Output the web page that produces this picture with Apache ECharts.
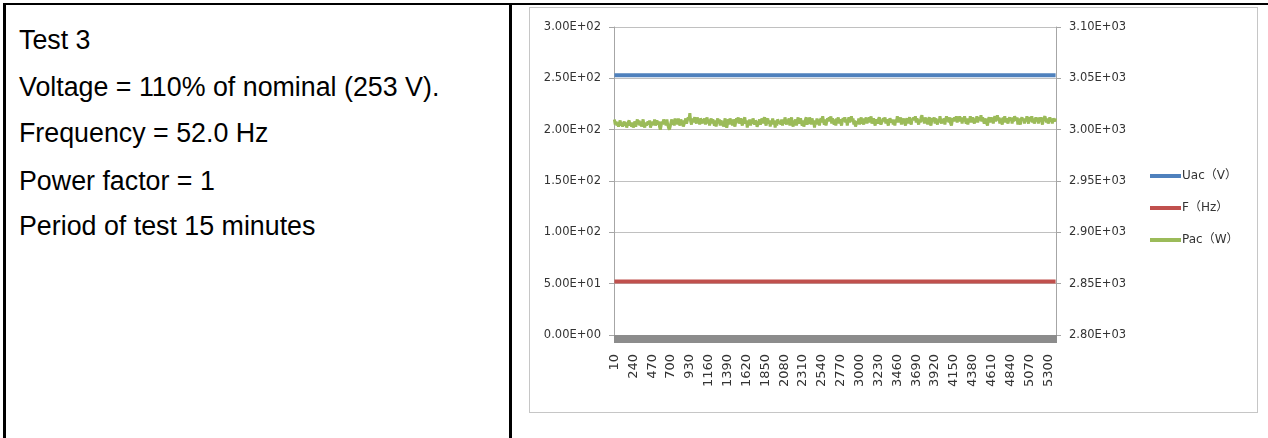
<!DOCTYPE html>
<html>
<head>
<meta charset="utf-8">
<script src="https://cdn.jsdelivr.net/npm/echarts@6/dist/echarts.min.js"></script>
<style>
  html, body { margin:0; padding:0; background:#fff; }
  #wrap { position:relative; width:1268px; height:438px; overflow:hidden; background:#fff; }
  .bl { position:absolute; background:#000; }
  .txt { position:absolute; left:19px; font-family:"Liberation Sans", Arial, sans-serif; font-size:26.8px; color:#000; white-space:nowrap; line-height:30px; height:30px; }
  #box { position:absolute; left:529px; top:7px; width:727px; height:404px; border:1px solid #c6c6c6; }
  #chart { position:absolute; left:0; top:0; width:1268px; height:438px; }
</style>
</head>
<body>
<div id="wrap">
  <div class="bl" style="left:3px;top:3px;width:1265px;height:2px;"></div>
  <div class="bl" style="left:3px;top:3px;width:3px;height:435px;"></div>
  <div class="bl" style="left:509px;top:3px;width:3px;height:435px;"></div>
  <div class="txt" style="top:25px;">Test 3</div>
  <div class="txt" style="top:72px;">Voltage = 110% of nominal (253 V).</div>
  <div class="txt" style="top:118px;">Frequency = 52.0 Hz</div>
  <div class="txt" style="top:166px;">Power factor = 1</div>
  <div class="txt" style="top:211px;">Period of test 15 minutes</div>
  <div id="box"></div>
  <div id="chart"></div>
</div>
<script>
// ---- data ----
var seriesNames = ["Uac（V）", "F（Hz）", "Pac（W）"];
var leftTicks = [0, 50, 100, 150, 200, 250, 300];
var rightTicks = [2800, 2850, 2900, 2950, 3000, 3050, 3100];
var timeStart = 10, timeStep = 10, pointCount = 539;
var categories = [];
for (var i = 0; i < pointCount; i++) categories.push(String(timeStart + i * timeStep));

var uacLevel = 253;   // V, constant over the test
var fLevel = 52;      // Hz, constant over the test

var pacValues = [
3010,3005,3008,3004,3007,3003,3006,3009,3004,3007,3003,3006,3008,3004,3007,3002,3006,3005,3009,3004,
3006,3003,3007,3002,3005,3008,3003,3007,3010,3005,3009,3004,3008,3003,3006,3010,3005,3002,3007,3004,
3003,3008,3005,3009,3002,3006,3004,3008,3005,3010,3004,3007,3009,3005,3008,3003,3000,3004,3008,3005,
3010,3006,3009,3004,3010,3005,3002,3000,3003,3007,3010,3005,3008,3004,3011,3006,3009,3005,3011,3006,
3004,3010,3006,3009,3003,3002,3008,3011,3006,3009,3012,3010,3016,3008,3005,3011,3007,3010,3012,3008,
3006,3012,3008,3010,3005,3011,3009,3006,3010,3007,3011,3005,3009,3012,3006,3010,3004,3008,3011,3006,
3010,3007,3004,3009,3003,3008,3011,3006,3010,3004,3009,3006,3008,3003,3007,3011,3005,3002,3006,3010,
3005,3011,3007,3009,3004,3010,3006,3003,3008,3011,3007,3012,3006,3009,3011,3007,3004,3008,3010,3012,
3006,3009,3002,3007,3005,3010,3004,3008,3006,3011,3008,3005,3009,3007,3003,3002,3007,3010,3005,3008,
3011,3006,3010,3012,3007,3004,3009,3011,3006,3009,3003,3008,3006,3011,3005,3009,3002,3007,3004,3010,
3011,3006,3008,3005,3010,3004,3009,3006,3012,3008,3005,3010,3007,3011,3004,3009,3012,3006,3003,3009,
3007,3010,3004,3008,3012,3006,3009,3011,3007,3004,3009,3003,3007,3010,3012,3005,3008,3006,3012,3009,
3005,3011,3007,3009,3002,3008,3005,3011,3006,3010,3004,3009,3011,3007,3013,3008,3005,3010,3004,3008,
3011,3008,3012,3009,3013,3006,3011,3008,3005,3010,3004,3011,3008,3012,3006,3010,3007,3004,3009,3011,
3008,3012,3007,3010,3004,3009,3012,3007,3010,3013,3008,3011,3005,3009,3003,3004,3008,3006,3011,3005,
3009,3012,3006,3008,3005,3011,3008,3012,3006,3010,3007,3012,3009,3013,3006,3009,3011,3007,3004,3010,
3011,3006,3010,3012,3007,3005,3004,3009,3011,3008,3012,3006,3010,3007,3004,3008,3011,3012,3007,3010,
3005,3009,3004,3010,3008,3013,3007,3011,3009,3012,3005,3010,3008,3011,3006,3004,3009,3011,3006,3010,
3012,3007,3005,3011,3009,3012,3009,3013,3007,3011,3008,3005,3010,3007,3012,3014,3008,3011,3006,3012,
3008,3011,3005,3010,3012,3007,3004,3009,3011,3008,3012,3006,3011,3008,3005,3010,3007,3013,3009,3006,
3010,3008,3011,3005,3010,3013,3008,3011,3007,3012,3006,3004,3009,3011,3008,3012,3010,3013,3007,3010,
3008,3013,3010,3012,3006,3011,3008,3013,3009,3006,3011,3005,3010,3008,3013,3007,3010,3012,3008,3006,
3011,3009,3013,3007,3010,3012,3009,3014,3008,3012,3009,3006,3011,3008,3006,3004,3010,3012,3007,3012,
3009,3012,3006,3011,3013,3008,3011,3014,3009,3012,3006,3011,3008,3005,3012,3009,3013,3007,3011,3008,
3006,3010,3012,3009,3011,3006,3012,3008,3013,3011,3009,3012,3005,3011,3008,3005,3010,3012,3009,3011,
3006,3011,3008,3013,3009,3006,3010,3012,3008,3013,3007,3011,3006,3009,3012,3008,3011,3006,3012,3008,
3012,3008,3005,3010,3011,3013,3010,3007,3011,3006,3009,3012,3008,3010,3006,3011,3012,3008,3011
];

var uacValues = categories.map(function(){ return uacLevel; });
var fValues = categories.map(function(){ return fLevel; });

function sci(v) {
  var s = Number(v).toExponential(2);
  var parts = s.split('e');
  var sign = parts[1].charAt(0) === '-' ? '-' : '+';
  var d = parts[1].replace(/[+-]/, '');
  if (d.length < 2) d = '0' + d;
  return parts[0] + 'E' + sign + d;
}

var chart = echarts.init(document.getElementById('chart'), null, {renderer: 'canvas'});
var axisGray = '#8c8c8c';
var labelStyle = { fontFamily: 'DejaVu Sans, sans-serif', fontSize: 11.5, color: '#333' };
chart.setOption({
  animation: false,
  backgroundColor: 'transparent',
  grid: { left: 614, right: 212, top: 27, bottom: 103, containLabel: false },
  legend: {
    orient: 'vertical', left: 1145, top: 165,
    itemWidth: 31, itemHeight: 4, itemGap: 20, icon: 'rect',
    textStyle: { fontFamily: 'DejaVu Sans, Noto Sans CJK SC, sans-serif', fontSize: 12, color: '#333', padding: [0,0,0,-4] },
    data: seriesNames
  },
  xAxis: {
    type: 'category', data: categories, boundaryGap: true,
    axisLine: { show: true, lineStyle: { color: axisGray, width: 1 } },
    axisTick: { show: true, interval: 0, length: 8, lineStyle: { color: axisGray, width: 1 } },
    axisLabel: { interval: 22, rotate: 90, margin: 19, hideOverlap: false,
      fontFamily: 'DejaVu Sans, sans-serif', fontSize: 13, color: '#333' },
    splitLine: { show: false }
  },
  yAxis: [
    { type: 'value', min: leftTicks[0], max: leftTicks[leftTicks.length-1], interval: 50, position: 'left',
      axisLine: { show: true, lineStyle: { color: '#a6a6a6' } },
      axisTick: { show: true, length: 5, lineStyle: { color: '#a6a6a6' } },
      axisLabel: Object.assign({ formatter: sci, margin: 13 }, labelStyle),
      splitLine: { show: true, lineStyle: { color: '#c0c0c0', width: 1 } } },
    { type: 'value', min: rightTicks[0], max: rightTicks[rightTicks.length-1], interval: 50, position: 'right',
      axisLine: { show: true, lineStyle: { color: '#a6a6a6' } },
      axisTick: { show: true, length: 5, lineStyle: { color: '#a6a6a6' } },
      axisLabel: Object.assign({ formatter: sci, margin: 13 }, labelStyle),
      splitLine: { show: false } }
  ],
  series: [
    { name: seriesNames[0], type: 'line', yAxisIndex: 0, data: uacValues, showSymbol: false, symbol: 'none',
      lineStyle: { color: '#4F81BD', width: 4 }, itemStyle: { color: '#4F81BD' } },
    { name: seriesNames[1], type: 'line', yAxisIndex: 0, data: fValues, showSymbol: false, symbol: 'none',
      lineStyle: { color: '#C0504D', width: 4 }, itemStyle: { color: '#C0504D' } },
    { name: seriesNames[2], type: 'line', yAxisIndex: 1, data: pacValues, showSymbol: false, symbol: 'none',
      lineStyle: { color: '#9BBB59', width: 3 }, itemStyle: { color: '#9BBB59' } }
  ]
});
</script>
</body>
</html>
